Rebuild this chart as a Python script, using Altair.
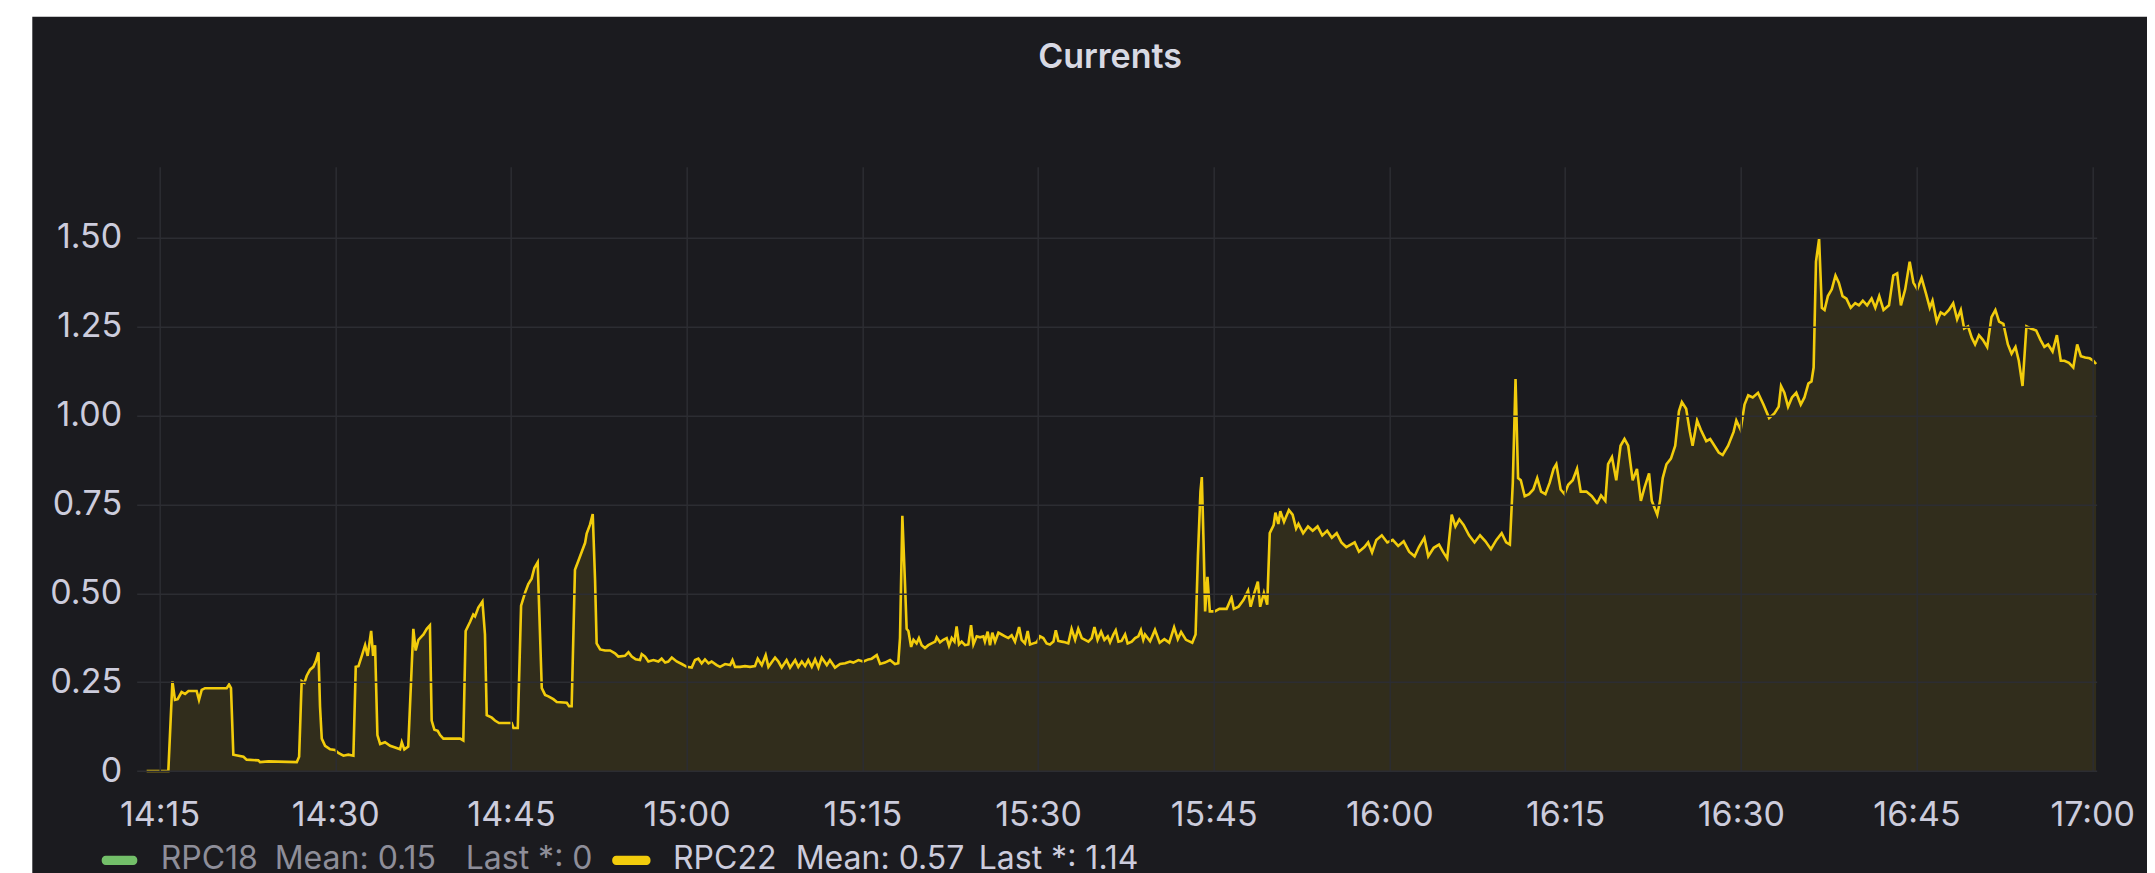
import altair as alt
import pandas as pd

# ---- RPC22 current readings: (minutes after 14:15, amps) ----
seg_1413_1435 = [
    (-1.10, 0.000), (0.75, 0.000), (1.10, 0.253), (1.32, 0.200), (1.55, 0.202), (1.89, 0.222),
    (2.18, 0.217), (2.46, 0.225), (3.17, 0.225), (3.37, 0.200), (3.60, 0.228), (3.88, 0.233),
    (5.73, 0.233), (5.93, 0.243), (6.10, 0.233), (6.30, 0.046), (7.16, 0.040), (7.44, 0.032),
    (8.44, 0.030), (8.58, 0.025), (9.29, 0.027), (11.71, 0.025), (11.91, 0.040), (12.14, 0.253),
    (12.37, 0.248), (12.56, 0.268), (12.85, 0.285), (13.13, 0.293), (13.33, 0.308), (13.56, 0.334),
    (13.70, 0.182), (13.85, 0.091), (14.13, 0.071), (14.56, 0.061), (14.98, 0.059), (15.27, 0.051),
    (15.70, 0.043), (16.12, 0.046), (16.55, 0.043), (16.75, 0.293), (16.98, 0.295), (17.26, 0.324),
    (17.55, 0.354), (17.77, 0.324), (18.06, 0.394), (18.23, 0.324), (18.40, 0.354), (18.60, 0.101),
    (18.83, 0.076), (19.25, 0.081), (19.68, 0.071),
]
seg_1435_1456 = [
    (20.11, 0.066), (20.53, 0.061), (20.68, 0.081), (20.90, 0.061), (21.24, 0.069), (21.67, 0.400),
    (21.87, 0.339), (22.10, 0.369), (22.53, 0.384), (22.81, 0.400), (23.09, 0.410), (23.24, 0.142),
    (23.46, 0.116), (23.75, 0.113), (23.95, 0.101), (24.23, 0.091), (25.66, 0.091), (25.94, 0.086),
    (26.14, 0.394), (26.51, 0.420), (26.79, 0.440), (26.94, 0.435), (27.22, 0.460), (27.56, 0.477),
    (27.79, 0.384), (27.93, 0.157), (28.36, 0.150), (28.64, 0.142), (28.99, 0.135), (30.07, 0.135),
    (30.21, 0.121), (30.58, 0.121), (30.86, 0.465), (31.20, 0.501), (31.49, 0.526), (31.77, 0.541),
    (32.00, 0.571), (32.29, 0.587), (32.63, 0.233), (32.91, 0.214), (33.20, 0.210), (33.62, 0.202),
    (33.91, 0.194), (34.76, 0.192), (34.96, 0.182), (35.19, 0.182), (35.47, 0.566), (35.76, 0.592),
    (36.33, 0.642), (36.47, 0.668), (36.75, 0.693), (36.98, 0.723), (37.18, 0.536), (37.32, 0.359),
    (37.61, 0.342), (38.03, 0.339), (38.46, 0.339), (38.89, 0.331), (39.17, 0.322), (39.74, 0.324),
    (40.03, 0.334), (40.31, 0.322), (40.65, 0.314), (41.02, 0.312), (41.17, 0.329),
]
seg_1456_1518 = [
    (41.45, 0.322), (41.73, 0.308), (42.16, 0.312), (42.59, 0.308), (42.87, 0.316), (43.16, 0.305),
    (43.44, 0.308), (43.73, 0.319), (44.15, 0.308), (44.58, 0.301), (45.01, 0.293), (45.43, 0.291),
    (45.72, 0.312), (46.00, 0.316), (46.29, 0.303), (46.57, 0.314), (46.86, 0.303), (47.14, 0.308),
    (47.57, 0.298), (47.85, 0.293), (48.28, 0.301), (48.71, 0.298), (48.91, 0.312), (49.13, 0.293),
    (49.56, 0.293), (49.99, 0.295), (50.41, 0.293), (50.84, 0.295), (51.07, 0.316), (51.41, 0.298),
    (51.75, 0.326), (51.98, 0.293), (52.55, 0.319), (52.83, 0.308), (53.12, 0.291), (53.54, 0.312),
    (53.83, 0.291), (54.26, 0.312), (54.54, 0.293), (54.83, 0.308), (55.11, 0.295), (55.39, 0.312),
    (55.68, 0.293), (55.96, 0.314), (56.25, 0.291), (56.53, 0.319), (56.96, 0.298), (57.24, 0.312),
    (57.67, 0.291), (58.10, 0.301), (58.53, 0.303), (58.95, 0.308), (59.24, 0.305), (59.66, 0.312),
    (60.09, 0.308), (60.52, 0.314), (60.80, 0.316), (61.23, 0.326), (61.51, 0.301), (61.94, 0.305),
    (62.37, 0.312), (62.79, 0.301),
]
seg_1518_1539 = [
    (63.07, 0.303), (63.22, 0.374), (63.42, 0.718), (63.64, 0.536), (63.79, 0.400), (63.93, 0.394),
    (64.16, 0.349), (64.36, 0.369), (64.64, 0.359), (64.84, 0.374), (65.07, 0.354), (65.35, 0.346),
    (65.64, 0.354), (65.92, 0.359), (66.21, 0.364), (66.35, 0.376), (66.63, 0.362), (66.92, 0.369),
    (67.20, 0.374), (67.40, 0.352), (67.63, 0.374), (67.86, 0.364), (68.05, 0.407), (68.25, 0.356),
    (68.48, 0.364), (68.77, 0.354), (69.05, 0.356), (69.28, 0.410), (69.48, 0.356), (69.76, 0.379),
    (70.05, 0.376), (70.33, 0.379), (70.47, 0.364), (70.70, 0.392), (70.90, 0.354), (71.10, 0.389),
    (71.33, 0.364), (71.61, 0.389), (71.90, 0.384), (72.18, 0.379), (72.47, 0.374), (72.75, 0.382),
    (73.03, 0.364), (73.38, 0.405), (73.60, 0.369), (73.89, 0.359), (74.12, 0.394), (74.32, 0.356),
    (74.60, 0.359), (74.89, 0.362), (75.17, 0.379), (75.45, 0.374), (75.74, 0.359), (76.02, 0.356),
    (76.31, 0.364), (76.51, 0.396), (76.73, 0.366), (77.02, 0.364), (77.30, 0.362), (77.59, 0.359),
    (77.87, 0.400), (78.16, 0.369), (78.44, 0.400), (78.73, 0.374), (79.01, 0.369), (79.30, 0.364),
    (79.58, 0.374), (79.81, 0.405), (80.09, 0.369), (80.38, 0.392), (80.66, 0.369), (80.95, 0.379),
    (81.15, 0.362), (81.43, 0.384), (81.63, 0.396), (81.86, 0.364), (82.14, 0.366), (82.43, 0.384),
    (82.65, 0.359), (83.00, 0.364), (83.28, 0.374), (83.56, 0.379), (83.79, 0.396), (83.99, 0.369),
    (84.13, 0.384),
]
seg_1539_1556 = [
    (84.57, 0.365), (84.98, 0.397), (85.39, 0.361), (85.79, 0.371), (86.20, 0.361), (86.61, 0.404),
    (86.94, 0.371), (87.22, 0.391), (87.63, 0.369), (88.16, 0.361), (88.45, 0.384), (88.65, 0.604),
    (88.86, 0.786), (88.98, 0.827), (89.14, 0.643), (89.27, 0.449), (89.47, 0.546), (89.67, 0.449),
    (90.08, 0.449), (90.49, 0.456), (91.10, 0.456), (91.51, 0.488), (91.71, 0.456), (92.12, 0.462),
    (92.53, 0.481), (92.94, 0.507), (93.15, 0.462), (93.47, 0.501), (93.76, 0.533), (93.96, 0.462),
    (94.29, 0.501), (94.57, 0.468), (94.78, 0.669), (95.11, 0.692), (95.27, 0.727), (95.51, 0.695),
    (95.68, 0.731), (96.00, 0.701), (96.41, 0.734), (96.74, 0.721), (97.03, 0.682), (97.23, 0.695),
    (97.64, 0.669), (98.05, 0.688), (98.45, 0.676), (98.86, 0.688), (99.27, 0.663), (99.68, 0.676),
    (100.09, 0.656), (100.50, 0.669), (100.90, 0.643), (101.31, 0.630),
]
seg_1556_1620 = [
    (102.03, 0.643), (102.40, 0.617), (102.86, 0.630), (103.19, 0.643), (103.52, 0.615), (103.89, 0.650),
    (104.35, 0.663), (104.82, 0.643), (105.28, 0.650), (105.75, 0.633), (106.21, 0.646), (106.68, 0.617),
    (107.15, 0.604), (107.52, 0.630), (107.98, 0.656), (108.31, 0.604), (108.78, 0.628), (109.24, 0.637),
    (109.57, 0.617), (109.94, 0.598), (110.31, 0.721), (110.64, 0.688), (110.96, 0.708), (111.34, 0.692),
    (111.80, 0.663), (112.27, 0.643), (112.73, 0.663), (113.20, 0.646), (113.66, 0.624), (114.13, 0.650),
    (114.59, 0.669), (114.97, 0.643), (115.29, 0.637), (115.53, 0.811), (115.76, 1.103), (115.99, 0.824),
    (116.22, 0.818), (116.55, 0.773), (116.92, 0.779), (117.29, 0.792), (117.62, 0.824), (117.95, 0.786),
    (118.32, 0.779), (118.69, 0.811), (119.02, 0.850), (119.25, 0.863), (119.62, 0.792), (119.95, 0.779),
    (120.27, 0.805), (120.65, 0.818), (121.02, 0.850), (121.34, 0.786), (121.81, 0.786), (122.28, 0.773),
    (122.74, 0.753), (123.07, 0.775), (123.44, 0.760), (123.67, 0.863), (124.00, 0.883), (124.37, 0.818),
    (124.74, 0.915), (125.07, 0.934), (125.39, 0.915), (125.77, 0.818), (126.14, 0.850), (126.47, 0.760),
    (126.79, 0.798), (127.16, 0.837), (127.40, 0.760), (127.86, 0.721), (128.10, 0.760), (128.33, 0.824),
    (128.65, 0.863), (129.03, 0.879), (129.40, 0.915), (129.72, 1.012), (129.96, 1.038), (130.33, 1.019),
    (130.65, 0.954), (130.89, 0.915), (131.26, 0.986), (131.59, 0.960), (132.05, 0.928), (132.38, 0.934),
    (132.75, 0.915), (133.12, 0.896), (133.45, 0.889), (133.91, 0.915), (134.38, 0.954), (134.61, 0.986),
    (134.98, 0.960), (135.31, 1.031), (135.64, 1.057), (136.01, 1.051), (136.47, 1.064), (136.94, 1.031),
]
seg_1620_1700 = [
    (137.41, 0.993), (137.87, 1.006), (138.24, 1.025), (138.43, 1.083), (138.71, 1.064), (139.03, 1.025),
    (139.36, 1.051), (139.73, 1.064), (140.11, 1.031), (140.43, 1.051), (140.76, 1.090), (141.04, 1.096),
    (141.22, 1.135), (141.41, 1.433), (141.69, 1.497), (141.92, 1.303), (142.15, 1.297), (142.43, 1.336),
    (142.76, 1.355), (143.08, 1.394), (143.36, 1.374), (143.69, 1.336), (144.02, 1.329), (144.39, 1.303),
    (144.76, 1.316), (145.09, 1.310), (145.41, 1.323), (145.79, 1.310), (146.16, 1.329), (146.48, 1.303),
    (146.81, 1.336), (147.18, 1.297), (147.65, 1.310), (148.02, 1.394), (148.35, 1.400), (148.67, 1.310),
    (149.04, 1.355), (149.42, 1.433), (149.74, 1.374), (150.07, 1.355), (150.44, 1.387), (150.81, 1.342),
    (151.14, 1.303), (151.37, 1.323), (151.74, 1.264), (152.07, 1.290), (152.39, 1.284), (152.77, 1.297),
    (153.14, 1.316), (153.47, 1.271), (153.79, 1.297), (154.07, 1.245), (154.40, 1.251), (154.72, 1.219),
    (155.00, 1.200), (155.33, 1.226), (155.66, 1.213), (156.03, 1.193), (156.40, 1.277), (156.73, 1.297),
    (157.05, 1.264), (157.42, 1.258), (157.80, 1.200), (158.12, 1.174), (158.45, 1.193), (158.73, 1.154),
    (159.05, 1.083), (159.38, 1.251), (159.75, 1.245), (160.22, 1.239), (160.59, 1.213), (160.91, 1.193),
    (161.24, 1.200), (161.61, 1.180), (161.98, 1.226), (162.31, 1.154), (162.64, 1.154), (163.01, 1.148),
    (163.38, 1.135), (163.71, 1.200), (164.03, 1.167), (164.40, 1.163), (164.78, 1.161), (165.10, 1.154),
    (165.33, 1.145),
]

legend_names = ["RPC18", "RPC22"]
legend_means = ["Mean: 0.15", "Mean: 0.57"]
legend_lasts = ["Last *: 0", "Last *: 1.14"]
series_colors = ["#73BF69", "#F2CC0C"]

x_tick_labels = ["14:15", "14:30", "14:45", "15:00", "15:15", "15:30",
                 "15:45", "16:00", "16:15", "16:30", "16:45", "17:00"]
y_tick_values = [0, 0.25, 0.5, 0.75, 1.0, 1.25, 1.5]
chart_title = "Currents"

# ---- build table ----
pairs = (seg_1413_1435 + seg_1435_1456 + seg_1456_1518 + seg_1518_1539
         + seg_1539_1556 + seg_1556_1620 + seg_1620_1700)
base = pd.Timestamp("2024-01-01 14:15:00")
df = pd.DataFrame(pairs, columns=["minutes", "current"])
df["time"] = (base + pd.to_timedelta(df["minutes"], unit="m")).dt.round("s")
df = df[["time", "current"]]


def dt(h, m, s=0):
    return alt.DateTime(year=2024, month=1, date=1, hours=h, minutes=m, seconds=s)


tick_dts = [dt(int(t.split(":")[0]), int(t.split(":")[1])) for t in x_tick_labels]

PANEL = "#1b1b1f"
GRID = "#2c2d32"
LABEL = "#ccccdc"
FONT = "Inter"

x_enc = alt.X(
    "time:T",
    scale=alt.Scale(domain=[dt(14, 13, 3), dt(17, 0, 23)]),
    axis=alt.Axis(values=tick_dts, format="%H:%M", title=None, grid=True,
                  gridColor=GRID, gridWidth=1.5, domain=False, ticks=False, tickSize=0,
                  labelFont=FONT, labelFontSize=34, labelColor=LABEL,
                  labelBaseline="middle", labelPadding=44, labelFlush=False,
                  labelOverlap=False, zindex=1),
)
y_enc = alt.Y(
    "current:Q",
    scale=alt.Scale(domain=[0, 1.7], nice=False, zero=True),
    axis=alt.Axis(values=y_tick_values, title=None, grid=True, gridColor=GRID,
                  gridWidth=1.5, domain=False, ticks=False, tickSize=0,
                  labelFont=FONT, labelFontSize=34, labelColor=LABEL,
                  labelPadding=15, labelFlush=False, labelOverlap=False,
                  labelExpr="datum.value === 0 ? '0' : format(datum.value, '.2f')",
                  zindex=1),
)

one = pd.DataFrame({"k": [0]})

panel = alt.Chart(one).mark_rect(color=PANEL).encode(
    x=alt.value(-104.4), x2=alt.value(2100), y=alt.value(-150), y2=alt.value(730))

area = alt.Chart(df).mark_area(color=series_colors[1], opacity=0.1).encode(x=x_enc, y=y_enc)
line = alt.Chart(df).mark_line(color=series_colors[1], strokeWidth=2.6).encode(x="time:T", y="current:Q")

title = alt.Chart(one).mark_text(text=chart_title, font=FONT, fontSize=34, fontWeight=600,
                                 color="#d8d9e3", align="center", baseline="middle").encode(
    x=alt.value(973.3), y=alt.value(-108.7))

legend_layers = []
sw_x = [(-35, 0.6), (475.5, 513.8)]
name_x = [24, 536.3]
mean_x = [138, 659]
last_x = [329, 842]
text_colors = ["#8e8e99", LABEL]
for i in range(2):
    legend_layers.append(alt.Chart(one).mark_rect(color=series_colors[i], cornerRadius=4).encode(
        x=alt.value(sw_x[i][0]), x2=alt.value(sw_x[i][1]), y=alt.value(689), y2=alt.value(698.3)))
    for txt, xx in [(legend_names[i], name_x[i]), (legend_means[i], mean_x[i]), (legend_lasts[i], last_x[i])]:
        legend_layers.append(alt.Chart(one).mark_text(
            text=txt, font=FONT, fontSize=32, color=text_colors[i], align="left",
            baseline="middle").encode(x=alt.value(xx), y=alt.value(692.5)))

chart = alt.layer(panel, area, line, title, *legend_layers).properties(
    width=1960, height=604.3,
    padding={"left": 128.7, "top": 158.7, "right": 50.3, "bottom": 108},
    autosize=alt.AutoSizeParams(type="none"),
).configure(background="white").configure_view(strokeWidth=0)

chart.save("out.html", embed_options={"renderer": "svg", "actions": False})
